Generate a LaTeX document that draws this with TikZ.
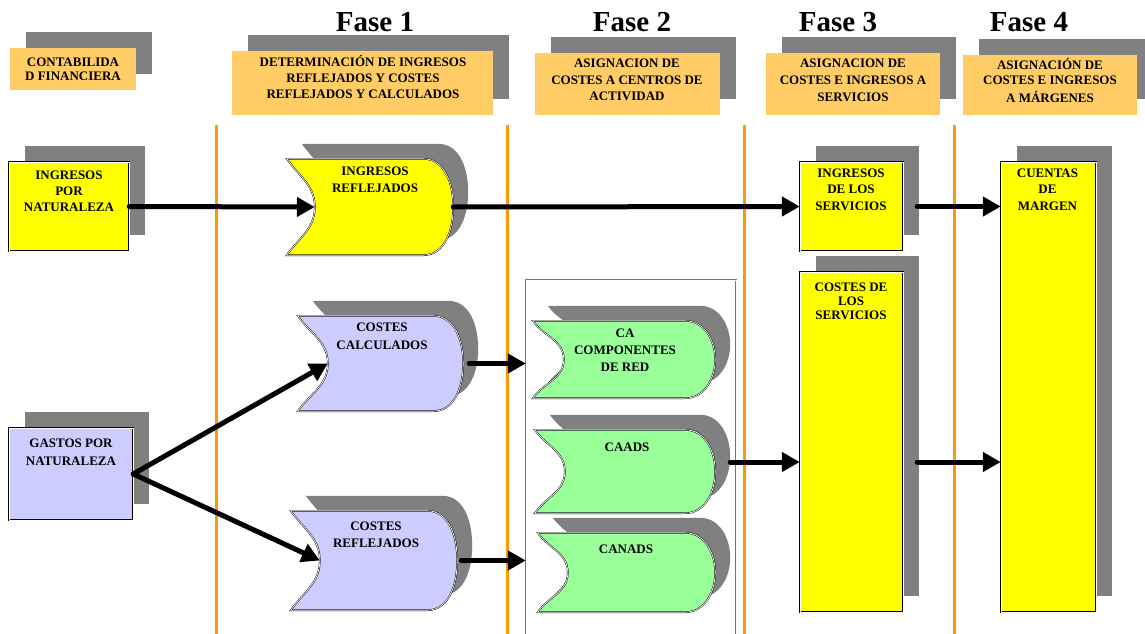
\documentclass[tikz,border=0pt]{standalone}
\usepackage{fontspec}
\setmainfont{Liberation Serif}
\usetikzlibrary{arrows.meta,calc}
\definecolor{hdr}{HTML}{FFCC66}
\definecolor{shd}{HTML}{808080}
\definecolor{lne}{HTML}{FF9900}
\definecolor{yel}{HTML}{FFFF00}
\definecolor{lav}{HTML}{CCCCFF}
\definecolor{grn}{HTML}{99FF99}
\newcommand\lb[1]{\bfseries\fontsize{13}{#1}\selectfont}
\newcommand\fs{\rule{0pt}{13pt}}
\newcommand\storeoutline[2]{(#1.north west) to[out=-55,in=90] ($(#1.west)+(#2,0)$) to[out=-90,in=55] (#1.south west) -- ($(#1.south east)+(-30,0)$) to[out=0,in=-90] (#1.east) to[out=90,in=0] ($(#1.north east)+(-30,0)$) -- cycle}
\newcommand\mkstore[7]{%
  \node[inner sep=0pt, minimum width={(#4-#2)*1pt}, minimum height={(#5-#3)*1pt}] (#1) at ({(#2+#4)/2},{(#3+#5)/2}) {};
  \fill[shd, transform canvas={shift={(15pt,15pt)}}] \storeoutline{#1}{#7};
  \filldraw[fill=#6, outl] \storeoutline{#1}{#7};
}
\newcommand\mkbox[6]{%
  \fill[shd] ({#2+16},{#3-16}) rectangle ({#4+16},{#5-16});
  \node[outl, fill=#6, inner sep=0pt, minimum width={(#4-#2)*1pt}, minimum height={(#5-#3)*1pt}] (#1) at ({(#2+#4)/2},{(#3+#5)/2}) {};
}
\newcommand\mkhdr[5]{%
  \fill[shd] ({#2+16},{#3-16}) rectangle ({#4+16},{#5-16});
  \node[fill=hdr, inner sep=0pt, minimum width={(#4-#2)*1pt}, minimum height={(#5-#3)*1pt}] (#1) at ({(#2+#4)/2},{(#3+#5)/2}) {};
}
\tikzset{
  outl/.style={draw=black, line width=0.45pt, double=white, double distance=0.7pt},
  lbl/.style={anchor=north, inner sep=0pt, align=center},
  fase/.style={anchor=base, inner sep=0pt, font=\bfseries\fontsize{29}{32}\selectfont},
  arr/.style={line width=5pt, line cap=round, -{Triangle[length=18pt,width=19pt]}},
  sep/.style={lne, line width=3pt}
}
\begin{document}
\begin{tikzpicture}[x=1pt,y=-1pt]
\useasboundingbox (0,0) rectangle (1145,634);
% phase titles
\node[fase] (f1) at (375,32) {Fase 1};
\node[fase] (f2) at (632,32) {Fase 2};
\node[fase] (f3) at (838,32) {Fase 3};
\node[fase] (f4) at (1029,32) {Fase 4};
% header boxes
\mkhdr{hc}{10}{48}{136}{90}
\mkhdr{h1}{232}{51}{493}{115}
\mkhdr{h2}{535}{53}{720}{115}
\mkhdr{h3}{766}{53}{940}{115}
\mkhdr{h4}{963}{55}{1137}{115}
\node[lbl, font=\lb{14}] (thc) at (73,53) {\fs CONTABILIDA\\D FINANCIERA};
\node[lbl, font=\lb{16}] (th1) at (363,53.5) {\fs DETERMINACIÓN DE INGRESOS\\REFLEJADOS Y COSTES\\REFLEJADOS Y CALCULADOS};
\node[lbl, font=\lb{16.3}] (th2) at (627,54.5) {\fs ASIGNACION DE\\COSTES A CENTROS DE\\ACTIVIDAD};
\node[lbl, font=\lb{17}] (th3) at (853,54.5) {\fs ASIGNACION DE\\COSTES E INGRESOS A\\SERVICIOS};
\node[lbl, font=\lb{15}] (th4) at (1050,56.5) {\fs ASIGNACIÓN DE\\COSTES E INGRESOS\\[2.7pt]A MÁRGENES};
% separators
\draw[sep] (216,125) -- (216,634);
\draw[sep] (507,125) -- (507,634);
\draw[sep] (744,125) -- (744,634);
\draw[sep] (954,125) -- (954,634);
% left boxes
\mkbox{inp}{9}{162}{129}{251}{yel}
\mkbox{gas}{9}{428}{133}{520}{lav}
% stores
\mkstore{ir}{287}{159}{453}{255}{yel}{28}
\mkstore{cc}{298}{316}{463}{411}{lav}{30}
\mkstore{cr}{291}{511}{457}{610}{lav}{29}
% group container
\node[inner sep=0pt, minimum width=210pt, minimum height=362pt] (grp) at (631,461) {};
\draw[draw=black!55, line width=0.5pt, double=white, double distance=0.6pt] (grp.south west) -- (grp.north west) -- (grp.north east) -- (grp.south east);
\mkstore{ca}{533}{321}{715}{398}{grn}{31}
\mkstore{caads}{535}{430}{715}{513}{grn}{30}
\mkstore{canads}{538}{533}{715}{612}{grn}{30}
% right boxes
\mkbox{isv}{800}{162}{903}{251}{yel}
\mkbox{cs}{800}{272}{903}{612}{yel}
\mkbox{cm}{1001}{162}{1096}{612}{yel}
% labels
\node[lbl, font=\lb{16}] (tinp) at (69,166) {\fs INGRESOS\\POR\\NATURALEZA};
\node[lbl, font=\lb{18}] (tgas) at (71,434) {\fs GASTOS POR\\NATURALEZA};
\node[lbl, font=\lb{17}] (tir) at (375,162.5) {\fs INGRESOS\\REFLEJADOS};
\node[lbl, font=\lb{18}] (tcc) at (382,318.5) {\fs COSTES\\CALCULADOS};
\node[lbl, font=\lb{17.6}] (tcr) at (376,517) {\fs COSTES\\REFLEJADOS};
\node[lbl, font=\lb{17}] (tca) at (625,324.5) {\fs CA\\COMPONENTES\\DE RED};
\node[lbl, font=\lb{17}] (tcaads) at (627,438) {\fs CAADS};
\node[lbl, font=\lb{17}] (tcanads) at (626,540.5) {\fs CANADS};
\node[lbl, font=\lb{16.7}] (tisv) at (851,164) {\fs INGRESOS\\DE LOS\\SERVICIOS};
\node[lbl, font=\lb{14}] (tcs) at (851,278) {\fs COSTES DE\\LOS\\SERVICIOS};
\node[lbl, font=\lb{16.7}] (tcm) at (1047.5,164) {\fs CUENTAS\\DE\\MARGEN};
% connectors
\draw[arr] (inp.east) -- ($(ir.west)+(28,0)$);
\draw[arr] (ir.east) -- (isv.west);
\draw[arr] ($(isv.east)+(14,0)$) -- (cm.west |- isv.east);
\draw[arr] (gas.east) -- ($(cc.west)+(30,0)$);
\draw[arr] (gas.east) -- ($(cr.west)+(29,0)$);
\draw[arr] ($(cc.east)+(6,0)$) -- (grp.west |- cc.east);
\draw[arr] ($(cr.east)+(4,0)$) -- (grp.west |- cr.east);
\draw[arr] ($(caads.east)+(15,-9.5)$) -- ($(cs.west |- caads.east)+(0,-9.5)$);
\draw[arr] ($(cs.east |- caads.east)+(14,-9.5)$) -- ($(cm.west |- caads.east)+(0,-9.5)$);
\end{tikzpicture}
\end{document}
